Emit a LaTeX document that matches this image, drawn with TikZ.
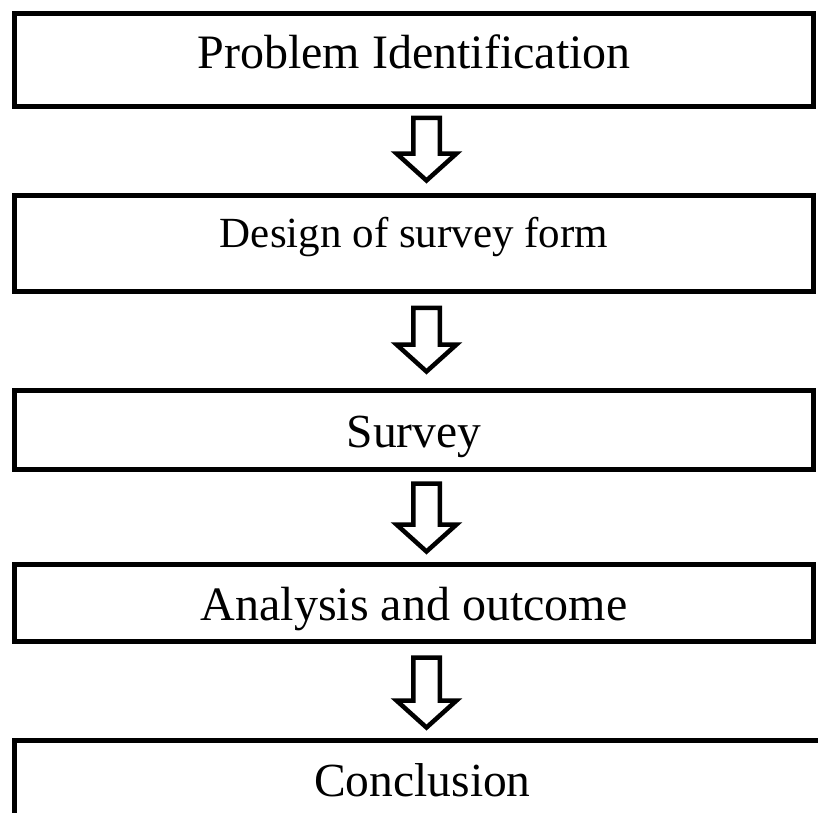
\documentclass[tikz,border=0pt]{standalone}
\usepackage{fontspec}
\setmainfont{Liberation Serif}
\usetikzlibrary{calc}
\tikzset{
  stepbox/.style={draw=black, line width=5pt, inner sep=0pt, minimum width=799pt,
    anchor=base, align=center},
  blockarrow/.style={draw=black, fill=white, line width=4.5pt, miter limit=10,
    to path={let \p1=(\tikztostart), \p2=(\tikztotarget) in
      (\x1-13.25pt,\y1) -- (\x1+13.25pt,\y1) -- (\x1+13.25pt,\y2+27pt)
      -- (\x1+30pt,\y2+27pt) -- (\x1,\y2) -- (\x1-30pt,\y2+27pt)
      -- (\x1-13.25pt,\y2+27pt) -- cycle}}
}
\begin{document}
\begin{tikzpicture}
\useasboundingbox (0pt,0pt) rectangle (818pt,-812pt);
\clip (0pt,0pt) rectangle (818pt,-812pt);
\fill[white] (0pt,0pt) rectangle (818pt,-812pt);

\node[stepbox, text height=54.5pt, text depth=38.5pt,
  font=\fontsize{48}{58}\selectfont] (b1) at (414pt,-68pt) {Problem Identification};
\node[stepbox, text height=51.5pt, text depth=44.5pt,
  font=\fontsize{43}{52}\selectfont] (b2) at (414pt,-247pt) {Design of survey form};
\node[stepbox, text height=56.5pt, text depth=22.5pt,
  font=\fontsize{47.5}{57}\selectfont] (b3) at (414pt,-447pt) {Survey};
\node[stepbox, text height=55.5pt, text depth=21.5pt,
  font=\fontsize{48}{58}\selectfont] (b4) at (414pt,-620pt) {Analysis and outcome};
\node[stepbox, minimum width=816pt, text height=55.5pt, text depth=64pt,
  font=\fontsize{47.5}{57}\selectfont] (b5) at (422.5pt,-796pt) {Conclusion};

\draw[blockarrow] ($(b1.south)+(12.5pt,-8.75pt)$) to ($(b2.north)+(12.5pt,12.5pt)$);
\draw[blockarrow] ($(b2.south)+(12.5pt,-13.75pt)$) to ($(b3.north)+(12.5pt,16.5pt)$);
\draw[blockarrow] ($(b3.south)+(12.5pt,-11.5pt)$) to ($(b4.north)+(12.5pt,10.5pt)$);
\draw[blockarrow] ($(b4.south)+(12.5pt,-13.5pt)$) to ($(b5.north)+(4pt,10.5pt)$);
\end{tikzpicture}
\end{document}
